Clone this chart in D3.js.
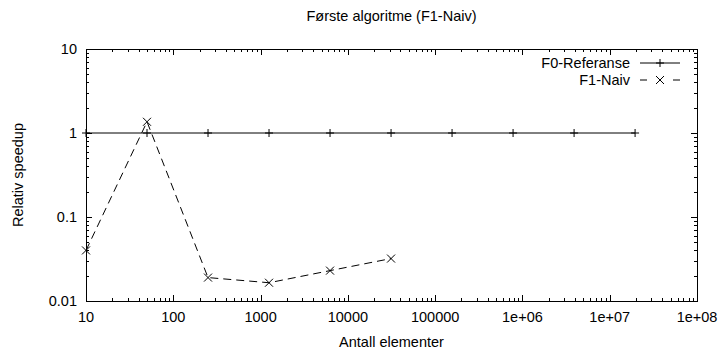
<!DOCTYPE html>
<html>
<head>
<meta charset="utf-8">
<script src="https://cdn.jsdelivr.net/npm/d3@7"></script>
<style>
  html, body { margin: 0; padding: 0; background: #fff; }
  svg text { font-family: "Liberation Sans", Arial, Helvetica, sans-serif; fill: #000; }
</style>
</head>
<body>
<div id="chart"></div>
<script>
const TITLE = 'Første algoritme (F1-Naiv)';
const X_LABEL = 'Antall elementer';
const Y_LABEL = 'Relativ speedup';

const refSizes = [10, 50, 250, 1250, 6250, 31250, 156250, 781250, 3906250, 19531250];
const refSpeedup = [1, 1, 1, 1, 1, 1, 1, 1, 1, 1];

const naivSizes = [10, 50, 250, 1250, 6250, 31250];
const naivSpeedup = [0.04, 1.36, 0.019, 0.0165, 0.023, 0.032];

const xTickValues = [10, 100, 1000, 10000, 100000, 1e6, 1e7, 1e8];
const xTickLabels = ['10', '100', '1000', '10000', '100000', '1e+06', '1e+07', '1e+08'];
const yTickValues = [0.01, 0.1, 1, 10];
const yTickLabels = ['0.01', '0.1', '1', '10'];

(() => {
  const width = 720;
  const height = 352;
  const fontSize = 14.5;
  const margin = { top: 49, right: 23, bottom: 51, left: 86 };
  const svg = d3.select('#chart').append('svg').attr('width', width).attr('height', height);

  const x = d3.scaleLog().domain([10, 1e8]).range([margin.left, width - margin.right]);
  const y = d3.scaleLog().domain([0.01, 10]).range([height - margin.bottom, margin.top]);

  const minorTicks = (lo, hi) => {
    const out = [];
    for (let p = lo; p < hi; p *= 10) {
      for (let k = 2; k <= 9; k++) out.push(p * k);
    }
    return out;
  };
  const xMinor = minorTicks(10, 1e8);
  const yMinor = minorTicks(0.01, 10);

  const x0 = margin.left, x1 = width - margin.right;
  const y0 = height - margin.bottom, y1 = margin.top;

  // ticks drawn inward on all four sides (gnuplot style)
  const ticks = svg.append('g').attr('stroke', '#000').attr('stroke-width', 1);
  const drawX = (vals, len) => vals.forEach((v) => {
    const px = Math.round(x(v)) + 0.5;
    ticks.append('line').attr('x1', px).attr('x2', px).attr('y1', y0).attr('y2', y0 - len);
    ticks.append('line').attr('x1', px).attr('x2', px).attr('y1', y1).attr('y2', y1 + len);
  });
  const drawY = (vals, len) => vals.forEach((v) => {
    const py = Math.round(y(v)) + 0.5;
    ticks.append('line').attr('y1', py).attr('y2', py).attr('x1', x0).attr('x2', x0 + len);
    ticks.append('line').attr('y1', py).attr('y2', py).attr('x1', x1).attr('x2', x1 - len);
  });
  drawX(xMinor, 3);
  drawX(xTickValues, 6);
  drawY(yMinor, 3);
  drawY(yTickValues, 6);

  // tick labels
  svg.append('g').selectAll('text').data(xTickValues).enter().append('text')
    .attr('x', (v) => x(v))
    .attr('y', y0 + 21)
    .attr('text-anchor', 'middle')
    .attr('font-size', fontSize)
    .text((v, i) => xTickLabels[i]);

  svg.append('g').selectAll('text').data(yTickValues).enter().append('text')
    .attr('x', x0 - 9)
    .attr('y', (v) => y(v) + 5)
    .attr('text-anchor', 'end')
    .attr('font-size', fontSize)
    .text((v, i) => yTickLabels[i]);

  const refData = refSizes.map((s, i) => [s, refSpeedup[i]]);
  const naivData = naivSizes.map((s, i) => [s, naivSpeedup[i]]);
  const line = d3.line().x((d) => x(d[0])).y((d) => y(d[1]));

  const plus = (g, cx, cy) => {
    g.append('line').attr('x1', cx - 4).attr('x2', cx + 4).attr('y1', cy).attr('y2', cy);
    g.append('line').attr('x1', cx).attr('x2', cx).attr('y1', cy - 4).attr('y2', cy + 4);
  };
  const cross = (g, cx, cy) => {
    g.append('line').attr('x1', cx - 4).attr('x2', cx + 4).attr('y1', cy - 4).attr('y2', cy + 4);
    g.append('line').attr('x1', cx - 4).attr('x2', cx + 4).attr('y1', cy + 4).attr('y2', cy - 4);
  };

  svg.append('path').datum(refData)
    .attr('d', line).attr('fill', 'none').attr('stroke', '#000').attr('stroke-width', 1);
  const refMarks = svg.append('g').attr('stroke', '#000').attr('stroke-width', 1);
  refData.forEach((d) => plus(refMarks, x(d[0]), y(d[1])));

  svg.append('path').datum(naivData)
    .attr('d', line).attr('fill', 'none').attr('stroke', '#000').attr('stroke-width', 1)
    .attr('stroke-dasharray', '8,5');
  const naivMarks = svg.append('g').attr('stroke', '#000').attr('stroke-width', 1);
  naivData.forEach((d) => cross(naivMarks, x(d[0]), y(d[1])));

  // frame
  svg.append('rect')
    .attr('x', x0 + 0.5).attr('y', y1 + 0.5)
    .attr('width', x1 - x0).attr('height', y0 - y1)
    .attr('fill', 'none').attr('stroke', '#000').attr('stroke-width', 1);

  // legend
  const legend = svg.append('g').attr('stroke', '#000').attr('stroke-width', 1);
  const lx0 = 640, lx1 = 680;
  const ly = [63, 80];
  legend.append('line').attr('x1', lx0).attr('x2', lx1).attr('y1', ly[0]).attr('y2', ly[0]);
  plus(legend, (lx0 + lx1) / 2, ly[0]);
  legend.append('line').attr('x1', lx0).attr('x2', lx1).attr('y1', ly[1]).attr('y2', ly[1])
    .attr('stroke-dasharray', '7,26');
  cross(legend, (lx0 + lx1) / 2, ly[1]);
  svg.append('text').attr('x', 630).attr('y', ly[0] + 5).attr('text-anchor', 'end')
    .attr('font-size', fontSize).text('F0-Referanse');
  svg.append('text').attr('x', 630).attr('y', ly[1] + 5).attr('text-anchor', 'end')
    .attr('font-size', fontSize).text('F1-Naiv');

  // titles
  svg.append('text').attr('x', (x0 + x1) / 2).attr('y', 21).attr('text-anchor', 'middle')
    .attr('font-size', fontSize).text(TITLE);
  svg.append('text').attr('x', (x0 + x1) / 2).attr('y', 347).attr('text-anchor', 'middle')
    .attr('font-size', fontSize).text(X_LABEL);
  svg.append('text').attr('transform', `translate(23,${(y0 + y1) / 2}) rotate(-90)`)
    .attr('text-anchor', 'middle').attr('font-size', fontSize).text(Y_LABEL);
})();
</script>
</body>
</html>
